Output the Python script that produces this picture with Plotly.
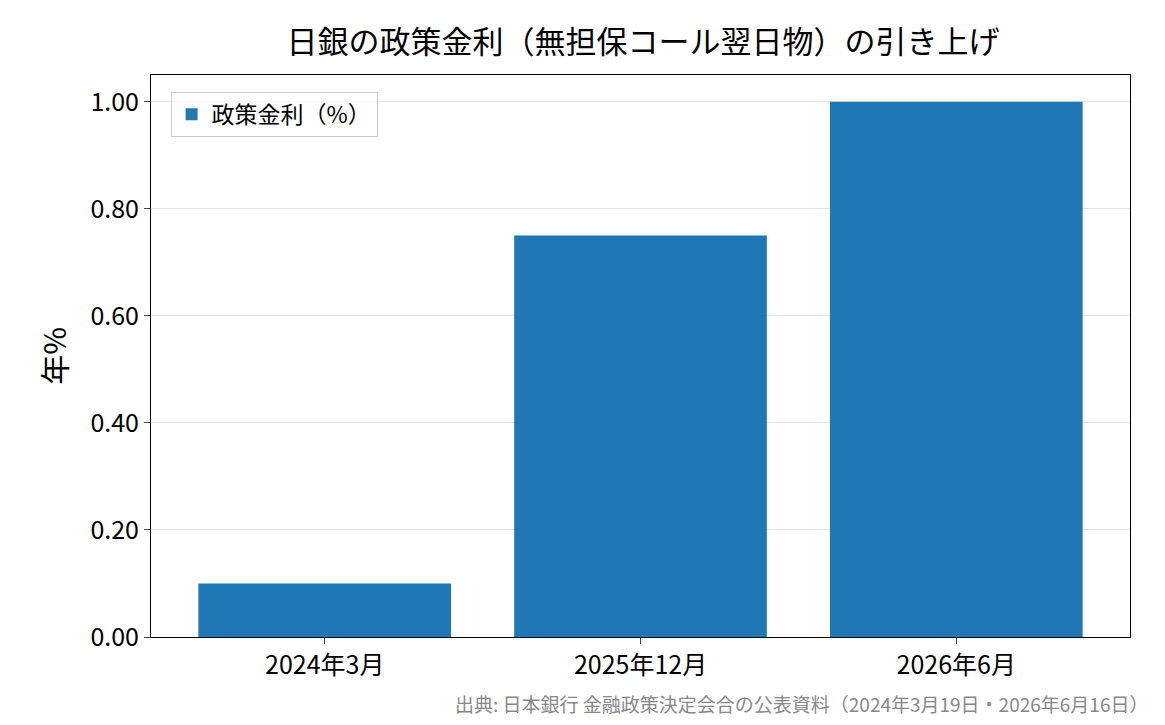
import plotly.graph_objects as go

categories = ["2024年3月", "2025年12月", "2026年6月"]
values = [0.10, 0.75, 1.00]
tick_vals = [0, 0.2, 0.4, 0.6, 0.8, 1.0]
tick_text = ["0.00", "0.20", "0.40", "0.60", "0.80", "1.00"]

F = "Noto Sans CJK JP"
fig = go.Figure(go.Bar(x=[0, 1, 2], y=values, width=0.8, marker_color="#1f77b4",
                       marker_line_width=0, name="政策金利（%）", showlegend=True))
fig.update_layout(
    width=1165, height=725, paper_bgcolor="white", plot_bgcolor="white",
    font=dict(family=F, size=25, color="black"),
    margin=dict(l=143, r=43, t=67, b=96, autoexpand=False),
    title=dict(text="日銀の政策金利（無担保コール翌日物）の引き上げ", x=0.545, xanchor="center",
               y=0.953, yanchor="middle", font=dict(size=31)),
    legend=dict(x=0.02, y=0.97, xanchor="left", yanchor="top", bordercolor="#cccccc",
                borderwidth=1, bgcolor="rgba(255,255,255,0.8)", font=dict(size=23)),
    xaxis=dict(range=[-0.55, 2.55], tickvals=[0, 1, 2], ticktext=categories, showline=True,
               linecolor="black", mirror=True, ticks="outside", ticklen=6, showgrid=False,
               automargin=False),
    yaxis=dict(range=[0, 1.05], tickvals=tick_vals, ticktext=tick_text, showline=True,
               linecolor="black", mirror=True, ticks="outside", ticklen=6,
               gridcolor="#e6e6e6", title=dict(text="年%", standoff=14), automargin=False),
    annotations=[dict(text="出典: 日本銀行 金融政策決定会合の公表資料（2024年3月19日・2026年6月16日）",
                      xref="paper", yref="paper", x=1.02, y=-0.118, xanchor="right", yanchor="middle",
                      showarrow=False, font=dict(size=19, color="#888888"))],
)
fig.write_html("out.html")
